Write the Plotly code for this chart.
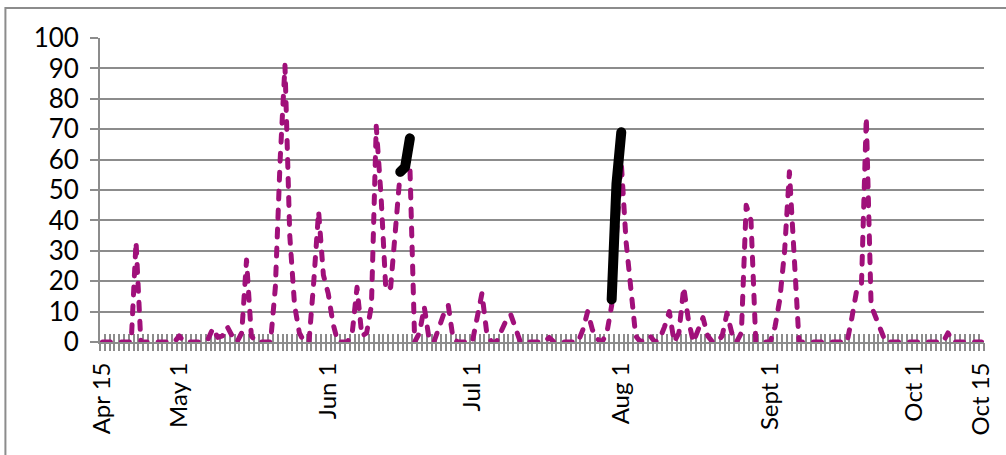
import pandas as pd
import plotly.graph_objects as go

# Daily series, Apr 15 - Oct 15
dates = pd.date_range("2012-04-15", "2012-10-15", freq="D")

rain = [
    0, 0, 0, 0, 0, 0, 0, 33, 0, 0,          # Apr 15 - Apr 24
    0, 0, 0, 0, 0, 0, 2, 0, 0, 0,           # Apr 25 - May 4
    0, 0, 1, 4.5, 1.5, 2, 5, 2, 0, 3,       # May 5 - May 14
    27, 2, 0, 0, 0, 0, 18, 60, 91, 35,      # May 15 - May 24
    12, 3, 0, 0, 20, 43, 22, 16, 6, 0,      # May 25 - Jun 3
    0, 0, 3, 18, 2, 3, 12, 71, 48, 17,      # Jun 4 - Jun 13
    18, 37, 56, 57, 58, 0, 3, 11.5, 1, 0,   # Jun 14 - Jun 23
    5, 9, 12, 1, 0, 0, 0, 0, 8, 16,         # Jun 24 - Jul 3
    3, 0, 0, 4, 7, 9, 5, 0, 0, 0,           # Jul 4 - Jul 13
    0, 0, 0, 1.5, 0, 0, 0, 0, 0, 0,         # Jul 14 - Jul 23
    4, 10, 4, 1, 0, 3, 12, 35, 59, 33,      # Jul 24 - Aug 2
    16, 2, 0, 1, 2, 0, 1, 5, 10, 0,         # Aug 3 - Aug 12
    3, 18, 7, 0, 4, 8, 2, 0, 0, 2,          # Aug 13 - Aug 22
    9.5, 3, 0, 3, 45, 40, 0, 0, 0, 0,       # Aug 23 - Sep 1
    5, 14, 30, 56, 28, 0, 0, 0, 0, 0,       # Sep 2 - Sep 11
    0, 0, 0, 0, 0, 0, 8, 17, 19, 74,        # Sep 12 - Sep 21
    12, 8, 4, 0, 0, 0, 0, 0, 0, 0,          # Sep 22 - Oct 1
    0, 0, 0, 0, 0, 0, 3, 0, 0, 0,           # Oct 2 - Oct 11
    0, 0, 0, 0,                             # Oct 12 - Oct 15
]
assert len(rain) == len(dates)

# Two short measured segments
meas_dates = ["2012-06-16", "2012-06-17", "2012-06-18", None,
              "2012-07-30", "2012-07-31", "2012-08-01"]
meas_vals = [56, 57.5, 67, None, 14, 52, 69]

tick_dates = ["2012-04-15", "2012-05-01", "2012-06-01", "2012-07-01",
              "2012-08-01", "2012-09-01", "2012-10-01", "2012-10-15"]
tick_text = ["Apr 15", "May 1", "Jun 1", "Jul 1",
             "Aug 1", "Sept 1", "Oct 1", "Oct 15"]

GRAY = "#8c8c8c"
FAMILY = "Lato, Noto Sans, sans-serif"
x_range = ["2012-04-14 12:00", "2012-10-15 12:00"]

fig = go.Figure()
fig.add_trace(go.Scatter(
    x=dates, y=rain, mode="lines",
    line=dict(color="#A0107A", width=5, dash="8px,11px"),
    hoverinfo="skip", showlegend=False,
))
fig.add_trace(go.Scatter(
    x=meas_dates, y=meas_vals, mode="lines", connectgaps=False,
    line=dict(color="#000000", width=10),
    hoverinfo="skip", showlegend=False,
))
# empty carriers so the two day-tick axes get drawn
for ax in ("x2", "x3"):
    fig.add_trace(go.Scatter(
        x=[dates[0]], y=[None], xaxis=ax, yaxis="y", mode="lines",
        hoverinfo="skip", showlegend=False,
    ))

day_ticks = dict(
    type="date", range=x_range, tickmode="linear",
    tick0="2012-04-14 12:00", dtick=86400000,
    ticklen=8, tickwidth=1.6, tickcolor=GRAY,
    showticklabels=False, showgrid=False, showline=False,
    zeroline=False, overlaying="x", anchor="y", side="bottom",
)

fig.update_layout(
    width=1006, height=455,
    margin=dict(l=100, r=18, t=38, b=113),
    paper_bgcolor="white", plot_bgcolor="white",
    xaxis=dict(
        type="date", range=x_range,
        tickmode="array", tickvals=tick_dates, ticktext=tick_text,
        tickangle=-90, ticks="",
        tickfont=dict(family=FAMILY, size=24, color="#000000"),
        showgrid=False, showline=True, linecolor=GRAY, linewidth=1.8,
        zeroline=False, ticklabelstandoff=9,
    ),
    xaxis2=dict(day_ticks, ticks="outside"),
    xaxis3=dict(day_ticks, ticks="inside", layer="below traces"),
    yaxis=dict(
        range=[0, 100], dtick=10, tick0=0,
        showgrid=True, gridcolor=GRAY, gridwidth=1.8,
        showline=True, linecolor=GRAY, linewidth=1.8,
        ticks="outside", ticklen=8, tickwidth=1.8, tickcolor=GRAY,
        tickfont=dict(family=FAMILY, size=26, color="#000000"),
        zeroline=False, ticklabelstandoff=6,
    ),
    shapes=[dict(
        type="rect", xref="paper", yref="paper",
        x0=-0.107, x1=1.2, y0=-0.6, y1=1.0987,
        line=dict(color=GRAY, width=2), fillcolor="rgba(0,0,0,0)",
        layer="below",
    )],
)

line_caps = (
    "var s=document.createElement('style');"
    "s.textContent='.scatterlayer .js-line{stroke-linecap:round;stroke-linejoin:round;}';"
    "document.head.appendChild(s);"
)
fig.write_html("out.html", post_script=line_caps)
